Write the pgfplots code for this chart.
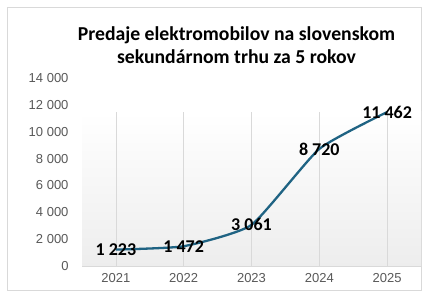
\documentclass[border=0pt]{standalone}
\usepackage{fontspec}
\setmainfont{Carlito}
\newfontfamily\arialf{Liberation Sans}
\usepackage{pgfplots}
\pgfplotsset{compat=1.18}
\usepackage{pgfplotstable}
\definecolor{linec}{HTML}{1F6383}
\definecolor{gridc}{HTML}{D9D9D9}
\definecolor{tickc}{HTML}{595959}
\definecolor{bordc}{HTML}{D9D9D9}
\pgfplotstableread{
x y lab
0 1223 {1 223}
1 1472 {1 472}
2 3061 {3 061}
3 8720 {8 720}
4 11462 {11 462}
}\sales
\begin{document}
\begin{tikzpicture}[x=1bp,y=1bp]
\path (0,0) rectangle (430,297);
\fill[white] (0,0) rectangle (430,297);
\draw[bordc, line width=0.8bp] (7,7) rectangle (421,290);
\node[align=center, font=\bfseries\fontsize{19.7bp}{23bp}\selectfont] at (236.5,252) {Predaje elektromobilov na slovenskom\\sekundárnom trhu za 5 rokov};
\begin{axis}[
  at={(82bp,31bp)}, anchor=south west,
  scale only axis, width=339bp, height=188bp,
  xmin=-0.5, xmax=4.5, ymin=0, ymax=14000,
  axis x line*=bottom, axis y line*=left,
  x axis line style={draw=gridc, line width=0.8bp},
  y axis line style={draw=none},
  major tick length=0pt,
  scaled y ticks=false,
  xtick={0,1,2,3,4}, xticklabels={2021,2022,2023,2024,2025},
  ytick={0,2000,4000,6000,8000,10000,12000,14000},
  yticklabels={0,2 000,4 000,6 000,8 000,10 000,12 000,14 000},
  ticklabel style={font=\arialf\fontsize{13bp}{15bp}\selectfont, text=tickc},
  yticklabel style={xshift=-10bp},
  xticklabel style={yshift=-4bp},
  clip=false,
]
\fill[top color=white, bottom color=black!7] (axis cs:-0.5,0) rectangle (axis cs:4.5,11480);
\foreach \i in {0,1,2,3,4} {
  \edef\tmp{\noexpand\draw[gridc, line width=0.7bp] (axis cs:\i,0) -- (axis cs:\i,11480);}
  \tmp
}
\addplot[linec, line width=2.3bp, smooth, tension=0.3,
  nodes near coords, point meta=explicit symbolic,
  every node near coord/.style={anchor=center, font=\bfseries\fontsize{18bp}{20bp}\selectfont, text=black}]
  table[x=x, y=y, meta=lab] {\sales};
\end{axis}
\end{tikzpicture}
\end{document}
